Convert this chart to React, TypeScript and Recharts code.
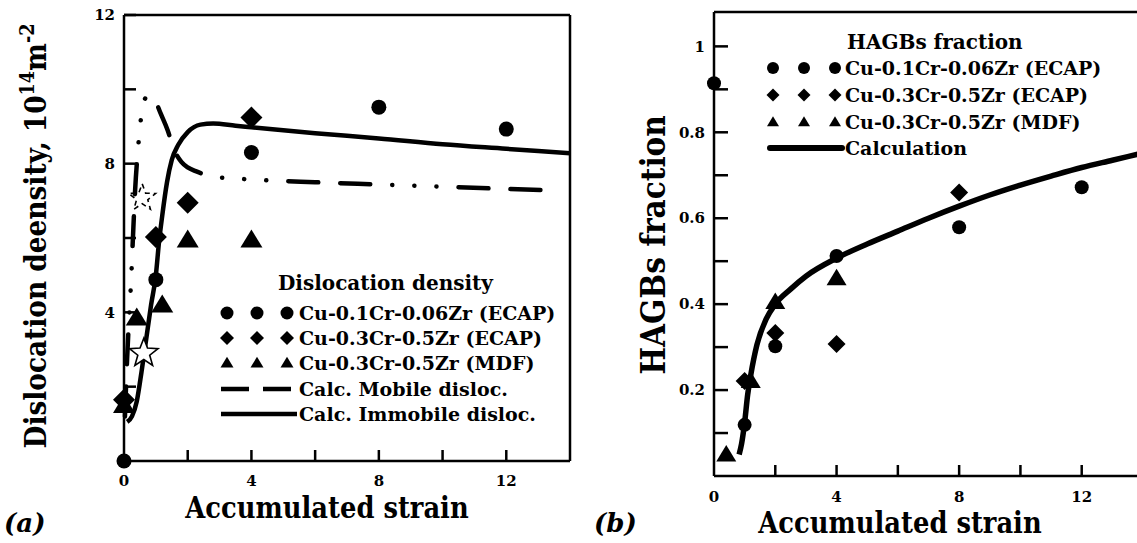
import React from 'react';
import { ComposedChart, Line, Scatter, XAxis, YAxis, ReferenceLine } from 'recharts';

// ---- panel (a): dislocation density, 10^14 m^-2 ----
const densityCuCrZr01 = [
  { x: 0, y: 0 }, { x: 1, y: 4.88 }, { x: 4, y: 8.3 }, { x: 8, y: 9.52 }, { x: 12, y: 8.93 },
];
const densityCuCrZr03 = [
  { x: 0, y: 1.65 }, { x: 1, y: 6.03 }, { x: 2, y: 6.95 }, { x: 4, y: 9.24 },
];
const densityMdf = [
  { x: 0, y: 1.5 }, { x: 0.4, y: 3.85 }, { x: 1.2, y: 4.2 }, { x: 2, y: 5.95 }, { x: 4, y: 5.95 },
];
const starSolid = [{ x: 0.62, y: 2.9 }];
const starDashed = [{ x: 0.57, y: 7.08 }];
const mobileCalc = [
  { x: 0.03, y: 1.2 }, { x: 0.1, y: 2.8 }, { x: 0.17, y: 4.0 }, { x: 0.22, y: 4.8 },
  { x: 0.28, y: 6.0 }, { x: 0.35, y: 7.3 }, { x: 0.45, y: 8.5 }, { x: 0.53, y: 9.2 },
  { x: 0.63, y: 9.7 }, { x: 0.8, y: 9.85 }, { x: 0.95, y: 9.75 }, { x: 1.15, y: 9.35 },
  { x: 1.37, y: 8.9 }, { x: 1.56, y: 8.4 }, { x: 1.8, y: 8.05 }, { x: 2.0, y: 7.9 },
  { x: 2.25, y: 7.8 }, { x: 2.8, y: 7.65 }, { x: 3.5, y: 7.6 }, { x: 4.5, y: 7.55 },
  { x: 6, y: 7.5 }, { x: 8, y: 7.44 }, { x: 10, y: 7.38 }, { x: 12, y: 7.32 }, { x: 13.6, y: 7.28 },
];
const immobileCalc = [
  { x: 0.1, y: 1.05 }, { x: 0.25, y: 1.2 }, { x: 0.4, y: 1.6 }, { x: 0.55, y: 2.4 },
  { x: 0.7, y: 3.3 }, { x: 0.85, y: 4.2 }, { x: 1.0, y: 5.0 }, { x: 1.1, y: 5.9 },
  { x: 1.2, y: 6.6 }, { x: 1.35, y: 7.5 }, { x: 1.5, y: 8.1 }, { x: 1.7, y: 8.5 },
  { x: 2.0, y: 8.85 }, { x: 2.4, y: 9.05 }, { x: 2.8, y: 9.08 }, { x: 3.5, y: 9.02 },
  { x: 4, y: 8.98 }, { x: 6, y: 8.82 }, { x: 8, y: 8.68 }, { x: 10, y: 8.52 },
  { x: 12, y: 8.4 }, { x: 14, y: 8.28 },
];

// ---- panel (b): HAGBs fraction ----
const hagbCuCrZr01 = [
  { x: 0, y: 0.914 }, { x: 1, y: 0.119 }, { x: 2, y: 0.302 }, { x: 4, y: 0.512 },
  { x: 8, y: 0.579 }, { x: 12, y: 0.672 },
];
const hagbCuCrZr03 = [
  { x: 1, y: 0.221 }, { x: 2, y: 0.333 }, { x: 4, y: 0.307 }, { x: 8, y: 0.66 },
];
const hagbMdf = [
  { x: 0.4, y: 0.05 }, { x: 1.2, y: 0.221 }, { x: 2, y: 0.405 }, { x: 4, y: 0.46 },
];
const hagbCalc = [
  { x: 0.82, y: 0.05 }, { x: 0.9, y: 0.075 }, { x: 1.0, y: 0.125 }, { x: 1.1, y: 0.19 },
  { x: 1.2, y: 0.235 }, { x: 1.4, y: 0.305 }, { x: 1.7, y: 0.365 }, { x: 2, y: 0.4 },
  { x: 2.5, y: 0.435 }, { x: 3, y: 0.465 }, { x: 4, y: 0.507 }, { x: 5, y: 0.54 },
  { x: 6, y: 0.57 }, { x: 7, y: 0.6 }, { x: 8, y: 0.628 }, { x: 9, y: 0.654 },
  { x: 10, y: 0.677 }, { x: 11, y: 0.698 }, { x: 12, y: 0.718 }, { x: 13, y: 0.735 },
  { x: 14, y: 0.752 },
];

const strainTicks = [0, 2, 4, 6, 8, 10, 12, 14];
const strainLabels = [0, 4, 8, 12];
const densityTicks = [0, 2, 4, 6, 8, 10, 12];
const densityLabels = [4, 8, 12];
const hagbTicks = [0, 0.1, 0.2, 0.3, 0.4, 0.5, 0.6, 0.7, 0.8, 0.9, 1.0];
const hagbLabels = [0.2, 0.4, 0.6, 0.8, 1.0];

const legendA = ['Cu-0.1Cr-0.06Zr (ECAP)', 'Cu-0.3Cr-0.5Zr (ECAP)', 'Cu-0.3Cr-0.5Zr (MDF)', 'Calc. Mobile disloc.', 'Calc. Immobile disloc.'];
const legendB = ['Cu-0.1Cr-0.06Zr (ECAP)', 'Cu-0.3Cr-0.5Zr (ECAP)', 'Cu-0.3Cr-0.5Zr (MDF)', 'Calculation'];

const SERIF = '"DejaVu Serif", "Liberation Serif", serif';
const AX = { stroke: '#000', strokeWidth: 2.5 };

const dotShape = (r: number) => (p: any) => <circle cx={p.cx} cy={p.cy} r={r} fill="#000" />;
const diamondShape = (h: number) => (p: any) => (
  <path d={`M${p.cx},${p.cy - h}L${p.cx + h},${p.cy}L${p.cx},${p.cy + h}L${p.cx - h},${p.cy}Z`} fill="#000" />
);
const triPath = (cx: number, cy: number, w: number) =>
  `M${cx},${cy - w * 0.95}L${cx + w},${cy + w * 0.7}L${cx - w},${cy + w * 0.7}Z`;
const triShape = (w: number) => (p: any) => <path d={triPath(p.cx, p.cy, w)} fill="#000" />;
const starPath = (cx: number, cy: number, R: number) => {
  let d = '';
  for (let i = 0; i < 10; i++) {
    const a = (-90 + i * 36) * Math.PI / 180;
    const r = i % 2 ? R * 0.42 : R;
    d += `${i ? 'L' : 'M'}${(cx + r * Math.cos(a)).toFixed(1)},${(cy + r * Math.sin(a)).toFixed(1)}`;
  }
  return d + 'Z';
};
const starShape = (R: number, dash?: string) => (p: any) => (
  <path d={starPath(p.cx, p.cy, R)} fill="#fff" fillOpacity={dash ? 0 : 1} stroke="#000" strokeWidth={1.6} strokeDasharray={dash} />
);

const xTick = (dy: number) => (p: any) => {
  const v = p.payload.value;
  return (
    <g>
      {v > 0 && v < 14 && <line x1={p.x} y1={p.y} x2={p.x} y2={p.y - 11} stroke="#000" strokeWidth={2.5} />}
      {strainLabels.includes(v) && (
        <text x={p.x} y={p.y + dy} textAnchor="middle" fontFamily={SERIF} fontWeight="bold" fontSize={15}>{v}</text>
      )}
    </g>
  );
};
const yTick = (labels: number[], len: number, fmt: (v: number) => string) => (p: any) => {
  const v = p.payload.value;
  const show = labels.some((l) => Math.abs(l - v) < 1e-6);
  return (
    <g>
      {v > 0 && <line x1={p.x} y1={p.y} x2={p.x + len} y2={p.y} stroke="#000" strokeWidth={2.5} />}
      {show && (
        <text x={p.x - 9} y={p.y} dy="0.35em" textAnchor="end" fontFamily={SERIF} fontWeight="bold" fontSize={15}>{fmt(v)}</text>
      )}
    </g>
  );
};

function Markers({ x0, y, gap, kind, size }: { x0: number; y: number; gap: number; kind: string; size: number }) {
  const xs = [x0, x0 + gap, x0 + 2 * gap];
  return (
    <g>
      {xs.map((cx, i) =>
        kind === 'dot' ? <circle key={i} cx={cx} cy={y} r={size} fill="#000" /> :
        kind === 'diamond' ? <path key={i} d={`M${cx},${y - size}L${cx + size},${y}L${cx},${y + size}L${cx - size},${y}Z`} fill="#000" /> :
        <path key={i} d={triPath(cx, y, size)} fill="#000" />
      )}
    </g>
  );
}

function Overlay() {
  const t = { fontFamily: SERIF, fontWeight: 'bold' as const };
  const rowsA = [313, 338, 363, 389, 414];
  const rowsB = [68, 95, 122, 148];
  return (
    <svg width={1137} height={543} style={{ position: 'absolute', left: 0, top: 0, pointerEvents: 'none' }}>
      {/* legend (a) */}
      <text x={278} y={290} {...t} fontSize={20}>Dislocation density</text>
      <Markers x0={227} y={rowsA[0]} gap={30} kind="dot" size={6.5} />
      <Markers x0={227} y={rowsA[1]} gap={30} kind="diamond" size={7} />
      <Markers x0={227} y={rowsA[2]} gap={30} kind="tri" size={6.5} />
      <line x1={221} y1={rowsA[3]} x2={297} y2={rowsA[3]} stroke="#000" strokeWidth={4.5} strokeDasharray="28 14" />
      <line x1={221} y1={rowsA[4]} x2={297} y2={rowsA[4]} stroke="#000" strokeWidth={4.5} />
      {legendA.map((s, i) => (
        <text key={s} x={299} y={rowsA[i]} dy="0.36em" {...t} fontSize={19}>{s}</text>
      ))}
      {/* legend (b) */}
      <text x={847} y={42} dy="0.36em" {...t} fontSize={20}>HAGBs fraction</text>
      <Markers x0={773} y={rowsB[0]} gap={31} kind="dot" size={6} />
      <Markers x0={773} y={rowsB[1]} gap={31} kind="diamond" size={6.5} />
      <Markers x0={773} y={rowsB[2]} gap={31} kind="tri" size={6} />
      <line x1={770} y1={rowsB[3]} x2={842} y2={rowsB[3]} stroke="#000" strokeWidth={6} strokeLinecap="round" />
      {legendB.map((s, i) => (
        <text key={s} x={845} y={rowsB[i]} dy="0.36em" {...t} fontSize={19}>{s}</text>
      ))}
      {/* axis titles */}
      <text transform="translate(327,518) scale(0.86,1)" textAnchor="middle" {...t} fontSize={30}>Accumulated strain</text>
      <text transform="translate(900,533) scale(0.86,1)" textAnchor="middle" {...t} fontSize={30}>Accumulated strain</text>
      <text transform="translate(46,236) rotate(-90) scale(0.88,1)" textAnchor="middle" {...t} fontSize={30}>
        Dislocation deensity, 10<tspan dy={-12} fontSize={20}>14</tspan><tspan dy={12}>m</tspan><tspan dy={-12} fontSize={20}>-2</tspan>
      </text>
      <text transform="translate(665,245) rotate(-90) scale(0.87,1)" textAnchor="middle" {...t} fontSize={34}>HAGBs fraction</text>
      <text x={4} y={532} {...t} fontStyle="italic" fontSize={26}>(a)</text>
      <text x={594} y={532} {...t} fontStyle="italic" fontSize={26}>(b)</text>
    </svg>
  );
}

export default function App() {
  return (
    <div style={{ position: 'absolute', left: 0, top: 0, width: 1137, height: 543, overflow: 'hidden', background: '#fff' }}>
      <div style={{ position: 'absolute', left: 0, top: 0 }}>
        <ComposedChart width={600} height={543} margin={{ top: 15, right: 30, left: 64, bottom: 52 }}>
          <XAxis type="number" dataKey="x" domain={[0, 14]} ticks={strainTicks} interval={0} height={30}
            axisLine={AX} tickLine={false} tickSize={0} tickMargin={0} tick={xTick(25)} />
          <YAxis type="number" dataKey="y" domain={[0, 12]} ticks={densityTicks} interval={0} width={60}
            axisLine={AX} tickLine={false} tickSize={0} tickMargin={0} tick={yTick(densityLabels, 12, (v) => String(v))} />
          <ReferenceLine y={12} stroke="#000" strokeWidth={2.5} />
          <ReferenceLine x={14} stroke="#000" strokeWidth={2.5} />
          <Line data={mobileCalc} dataKey="y" type="monotone" stroke="#000" strokeWidth={4.5} dot={false}
            strokeDasharray="30 22 30 22 0.1 22 0.1 22 0.1 22" strokeLinecap="round" isAnimationActive={false} />
          <Line data={immobileCalc} dataKey="y" type="monotone" stroke="#000" strokeWidth={4.5} dot={false} isAnimationActive={false} />
          <Scatter data={densityMdf} dataKey="y" shape={triShape(11)} isAnimationActive={false} />
          <Scatter data={densityCuCrZr03} dataKey="y" shape={diamondShape(11)} isAnimationActive={false} />
          <Scatter data={densityCuCrZr01} dataKey="y" shape={dotShape(7.5)} isAnimationActive={false} />
          <Scatter data={starSolid} dataKey="y" shape={starShape(15)} isAnimationActive={false} />
          <Scatter data={starDashed} dataKey="y" shape={starShape(14, '5 4')} isAnimationActive={false} />
        </ComposedChart>
      </div>
      <div style={{ position: 'absolute', left: 580, top: 0 }}>
        <ComposedChart width={600} height={543} margin={{ top: 12, right: 37, left: 74, bottom: 37 }}>
          <XAxis type="number" dataKey="x" domain={[0, 14]} ticks={strainTicks} interval={0} height={30}
            axisLine={AX} tickLine={false} tickSize={0} tickMargin={0} tick={xTick(26)} />
          <YAxis type="number" dataKey="y" domain={[0, 1.08]} ticks={hagbTicks} interval={0} width={60}
            axisLine={AX} tickLine={false} tickSize={0} tickMargin={0}
            tick={yTick(hagbLabels, 14, (v) => (v === 1 ? '1' : v.toFixed(1)))} />
          <ReferenceLine y={1.08} stroke="#000" strokeWidth={2.5} />
          <Line data={hagbCalc} dataKey="y" type="monotone" stroke="#000" strokeWidth={5.5} dot={false} isAnimationActive={false} />
          <Scatter data={hagbMdf} dataKey="y" shape={triShape(10)} isAnimationActive={false} />
          <Scatter data={hagbCuCrZr03} dataKey="y" shape={diamondShape(9)} isAnimationActive={false} />
          <Scatter data={hagbCuCrZr01} dataKey="y" shape={dotShape(7)} isAnimationActive={false} />
        </ComposedChart>
      </div>
      <Overlay />
    </div>
  );
}
